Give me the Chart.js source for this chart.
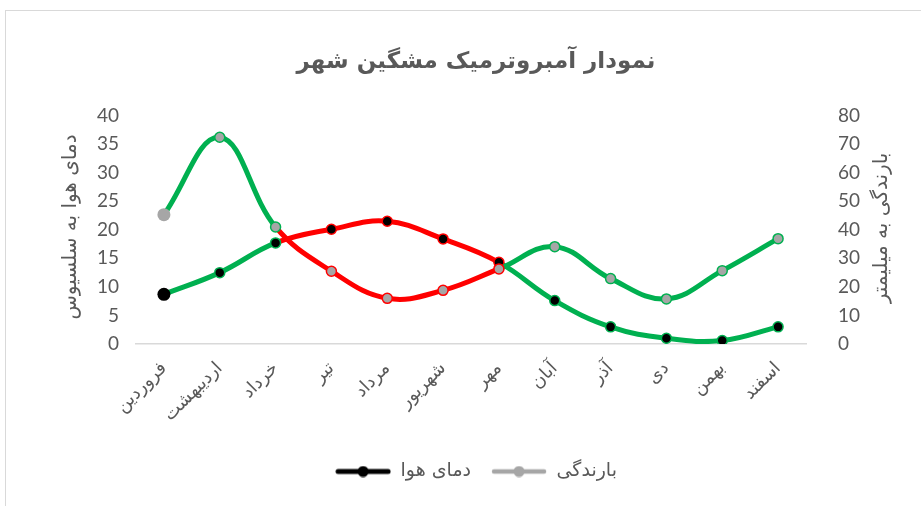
<!DOCTYPE html>
<html lang="fa">
<head>
<meta charset="utf-8">
<title>نمودار آمبروترمیک مشگین شهر</title>
<script src="https://cdn.jsdelivr.net/npm/chart.js@4.4.1/dist/chart.umd.min.js"></script>
<style>
  html, body { margin: 0; padding: 0; background: #fff; overflow: hidden; }
  #wrap { position: relative; width: 921px; height: 506px; }
  #frame { position: absolute; left: 5px; top: 10px; width: 930px; height: 510px; border: 1px solid #d9d9d9; box-sizing: border-box; }
  #chart { position: absolute; left: 0; top: 0; }
</style>
</head>
<body>
<div id="wrap">
  <div id="frame"></div>
  <canvas id="chart" width="921" height="506"></canvas>
</div>
<script>
// ماه‌ها (محور افقی)
const months = ["فروردین", "اردیبهشت", "خرداد", "تیر", "مرداد", "شهریور", "مهر", "آبان", "آذر", "دی", "بهمن", "اسفند"];

// دمای هوا (سلسیوس) و بارندگی (میلیمتر)
const temperature = [8.7, 12.5, 17.7, 20.1, 21.5, 18.4, 14.3, 7.6, 3.0, 1.0, 0.6, 3.0];
const rainfall = [45.3, 72.4, 41.0, 25.5, 16.0, 18.8, 26.3, 34.1, 22.9, 15.8, 25.7, 36.9];

// تیک‌های محورها
const tempTicks = [0, 5, 10, 15, 20, 25, 30, 35, 40];
const rainTicks = [0, 10, 20, 30, 40, 50, 60, 70, 80];

// دوره خشک: از خرداد تا مهر (اندیس ماه‌ها)
const dryFrom = 2;
const dryTo = 6;

const GREEN = "#00b050";
const RED = "#ff0000";
const TEXT = "#595959";
const FONT = "Lato, 'DejaVu Sans', sans-serif";
const FA_FONT = "'DejaVu Sans', sans-serif";

function isDrySegment(ctx) {
  return ctx.p0DataIndex >= dryFrom && ctx.p1DataIndex <= dryTo;
}

function pointEdgeColor(ctx) {
  const i = ctx.dataIndex;
  return (i > dryFrom && i <= dryTo) ? RED : GREEN;
}

// علامت راهنما: خط با دایره وسط
function makeLegendSymbol(color, lineWidth) {
  const c = document.createElement("canvas");
  c.width = 56;
  c.height = 12;
  const g = c.getContext("2d");
  g.strokeStyle = color;
  g.lineWidth = lineWidth;
  g.lineCap = "round";
  g.beginPath();
  g.moveTo(3, 6);
  g.lineTo(53, 6);
  g.stroke();
  g.fillStyle = color;
  g.beginPath();
  g.arc(28, 6, 5.5, 0, Math.PI * 2);
  g.fill();
  return c;
}

const tempSymbol = makeLegendSymbol("#000000", 5);
const rainSymbol = makeLegendSymbol("#a6a6a6", 4.5);

// عنوان محورهای عمودی (هر دو با چرخش -۹۰ درجه مثل اکسل)
const axisTitles = {
  id: "axisTitles",
  afterDraw(chart) {
    const ctx = chart.ctx;
    ctx.save();
    ctx.fillStyle = TEXT;
    ctx.font = "20px " + FA_FONT;
    ctx.textAlign = "center";
    ctx.textBaseline = "middle";
    [[71, 227, "دمای هوا به سلسیوس"], [882, 228, "بارندگی به میلیمتر"]].forEach(([x, y, text]) => {
      ctx.save();
      ctx.translate(x, y);
      ctx.rotate(-Math.PI / 2);
      ctx.fillText(text, 0, 0);
      ctx.restore();
    });
    ctx.restore();
  }
};

const commonLine = {
  borderColor: GREEN,
  borderWidth: 5,
  tension: 0.4,
  fill: false,
  pointRadius: ctx => ctx.dataIndex === 0 ? 6.5 : 5,
  pointBorderWidth: ctx => ctx.dataIndex === 0 ? 0 : 1.5,
  pointBorderColor: pointEdgeColor,
  segment: {
    borderColor: ctx => isDrySegment(ctx) ? RED : GREEN
  }
};

new Chart(document.getElementById("chart"), {
  type: "line",
  data: {
    labels: months,
    datasets: [
      Object.assign({}, commonLine, {
        label: "بارندگی",
        data: rainfall,
        yAxisID: "y1",
        pointBackgroundColor: "#a6a6a6"
      }),
      Object.assign({}, commonLine, {
        label: "دمای هوا",
        data: temperature,
        yAxisID: "y",
        pointBackgroundColor: "#000000"
      })
    ]
  },
  options: {
    responsive: false,
    animation: false,
    events: [],
    layout: { padding: { left: 31, right: 0, top: 0, bottom: 15 } },
    plugins: {
      tooltip: { enabled: false },
      title: {
        display: true,
        text: "نمودار آمبروترمیک مشگین شهر",
        color: TEXT,
        font: { family: FA_FONT, size: 23, weight: "bold" },
        padding: { top: 48, bottom: 40 }
      },
      legend: {
        position: "bottom",
        labels: {
          color: TEXT,
          font: { family: FA_FONT, size: 19 },
          usePointStyle: true,
          pointStyleWidth: 56,
          padding: 20,
          generateLabels: () => [
            { text: "دمای هوا", pointStyle: tempSymbol, datasetIndex: 1, fontColor: TEXT, lineWidth: 0 },
            { text: "بارندگی", pointStyle: rainSymbol, datasetIndex: 0, fontColor: TEXT, lineWidth: 0 }
          ]
        }
      }
    },
    scales: {
      x: {
        offset: true,
        grid: { display: false, offset: true },
        border: { display: true, color: "#d9d9d9", width: 1.5 },
        ticks: {
          color: TEXT,
          font: { family: FA_FONT, size: 18 },
          minRotation: 45,
          maxRotation: 45,
          padding: 6
        },
        afterFit: s => { s.height = 98; }
      },
      y: {
        position: "left",
        min: 0,
        max: 40,
        grid: { display: false },
        border: { display: false },
        afterBuildTicks: s => { s.ticks = tempTicks.map(v => ({ value: v })); },
        ticks: { color: TEXT, font: { family: FONT, size: 19 }, padding: 9 },
        afterFit: s => { s.width = 105; }
      },
      y1: {
        position: "right",
        min: 0,
        max: 80,
        grid: { display: false },
        border: { display: false },
        afterBuildTicks: s => { s.ticks = rainTicks.map(v => ({ value: v })); },
        ticks: { color: TEXT, font: { family: FONT, size: 19 }, padding: 24 },
        afterFit: s => { s.width = 115; }
      }
    }
  },
  plugins: [axisTitles]
});
</script>
</body>
</html>
